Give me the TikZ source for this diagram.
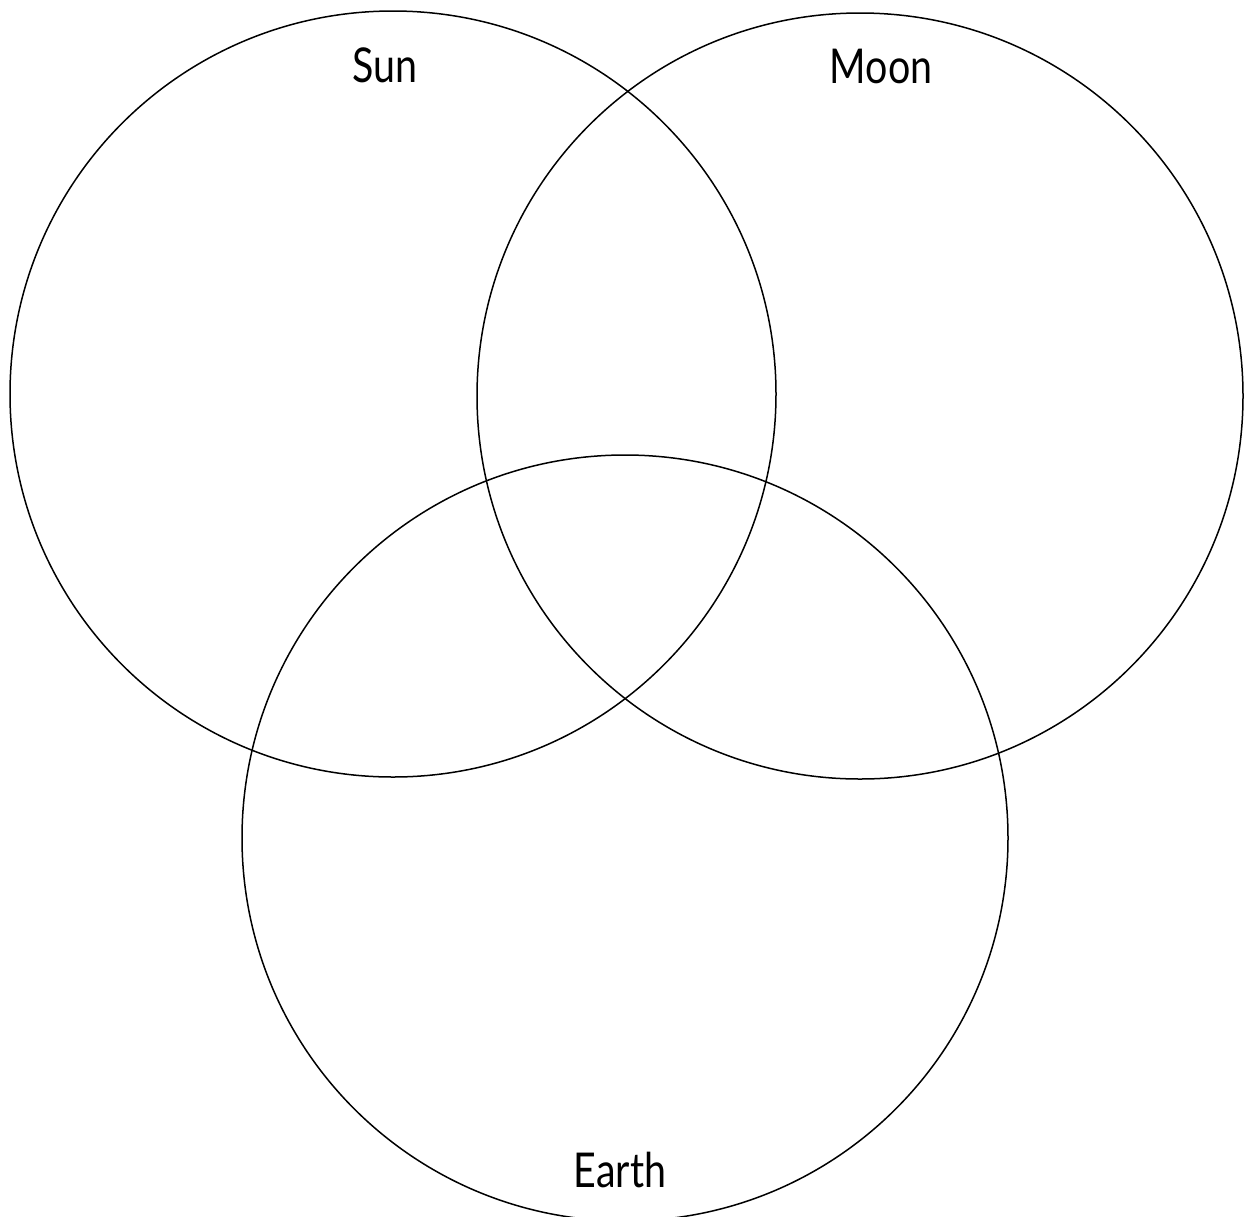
\documentclass[tikz,border=0pt]{standalone}
\usepackage{fontspec}
\setmainfont{Lato}
\begin{document}
\begin{tikzpicture}[x=1pt,y=-1pt,
  venn/.style={draw=black,line width=1.5pt},
  lbl/.style={font=\fontsize{48}{56}\selectfont,inner sep=0pt,xscale=0.82}]
\useasboundingbox (0,0) rectangle (1247,1216);
\draw[venn] (393,394) circle[radius=383];
\draw[venn] (860,396) circle[radius=383];
\draw[venn] (625,838) circle[radius=383];
\node[lbl] (sun) at (385,65) {Sun};
\node[lbl] (moon) at (881,66) {Moon};
\node[lbl] (earth) at (620,1170) {Earth};
\end{tikzpicture}
\end{document}
